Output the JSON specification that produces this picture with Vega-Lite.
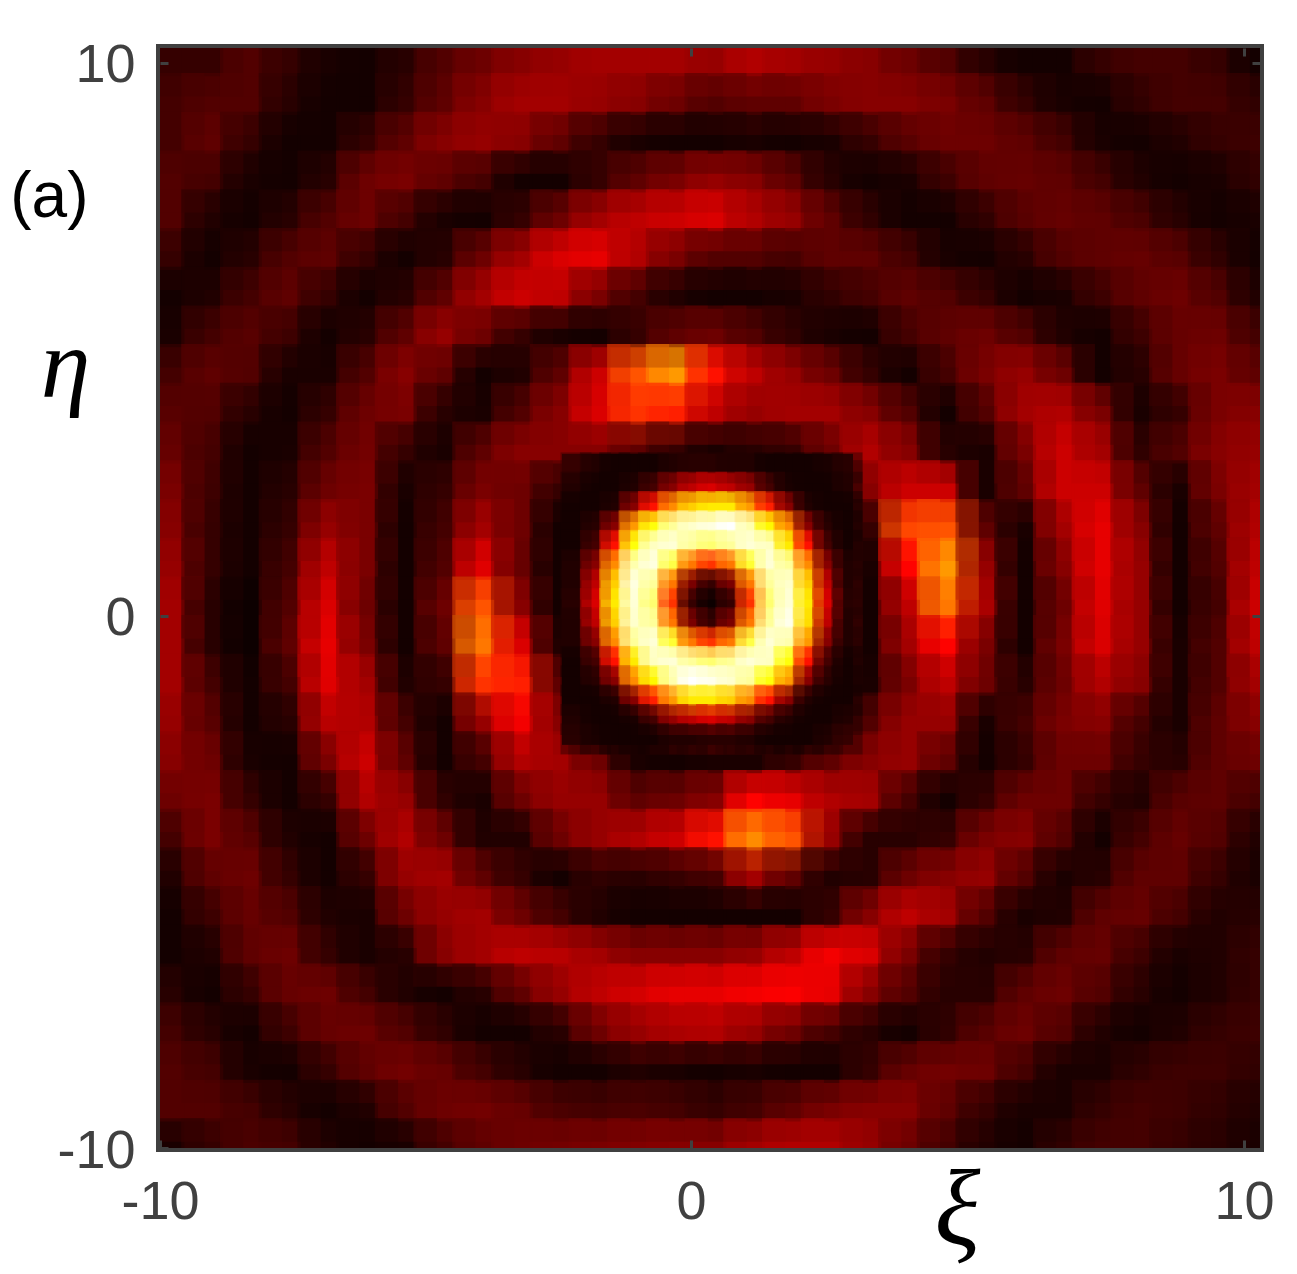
{"$schema":"https://vega.github.io/schema/vega-lite/v6.json","width":1100,"height":1100,"autosize":{"type":"none"},"padding":{"left":160,"top":48,"right":37,"bottom":126},"background":"white","config":{"view":{"stroke":"#404040","strokeWidth":8}},"resolve":{"axis":{"x":"independent","y":"independent"}},"datasets":{"coarse":[
{"x":-9.5,"y":10.1,"v":8},{"x":-8.8,"y":10.1,"v":8},{"x":-8.1,"y":10.1,"v":12},{"x":-7.4,"y":10.1,"v":8},{"x":-6.7,"y":10.1,"v":4},{"x":-6,"y":10.1,"v":3},{"x":-5.3,"y":10.1,"v":6},{"x":-4.6,"y":10.1,"v":12},{"x":-3.9,"y":10.1,"v":16},{"x":-3.2,"y":10.1,"v":20},{"x":-2.5,"y":10.1,"v":22},{"x":-1.8,"y":10.1,"v":24},{"x":-1.1,"y":10.1,"v":24},{"x":-0.4,"y":10.1,"v":24},{"x":0.3,"y":10.1,"v":22},{"x":1,"y":10.1,"v":26},{"x":1.7,"y":10.1,"v":24},{"x":2.4,"y":10.1,"v":22},{"x":3.1,"y":10.1,"v":20},{"x":3.8,"y":10.1,"v":16},{"x":4.5,"y":10.1,"v":12},{"x":5.2,"y":10.1,"v":6},{"x":5.9,"y":10.1,"v":3},{"x":6.6,"y":10.1,"v":3},{"x":7.3,"y":10.1,"v":8},{"x":8,"y":10.1,"v":10},{"x":8.7,"y":10.1,"v":10},{"x":9.4,"y":10.1,"v":8},{"x":10.1,"y":10.1,"v":3},
{"x":-9.5,"y":9.4,"v":10},{"x":-8.8,"y":9.4,"v":12},{"x":-8.1,"y":9.4,"v":12},{"x":-7.4,"y":9.4,"v":6},{"x":-6.7,"y":9.4,"v":3},{"x":-6,"y":9.4,"v":3},{"x":-5.3,"y":9.4,"v":8},{"x":-4.6,"y":9.4,"v":14},{"x":-3.9,"y":9.4,"v":20},{"x":-3.2,"y":9.4,"v":24},{"x":-2.5,"y":9.4,"v":24},{"x":-1.8,"y":9.4,"v":22},{"x":-1.1,"y":9.4,"v":20},{"x":-0.4,"y":9.4,"v":16},{"x":0.3,"y":9.4,"v":12},{"x":1,"y":9.4,"v":14},{"x":1.7,"y":9.4,"v":14},{"x":2.4,"y":9.4,"v":18},{"x":3.1,"y":9.4,"v":20},{"x":3.8,"y":9.4,"v":20},{"x":4.5,"y":9.4,"v":18},{"x":5.2,"y":9.4,"v":14},{"x":5.9,"y":9.4,"v":8},{"x":6.6,"y":9.4,"v":4},{"x":7.3,"y":9.4,"v":3},{"x":8,"y":9.4,"v":7},{"x":8.7,"y":9.4,"v":10},{"x":9.4,"y":9.4,"v":10},{"x":10.1,"y":9.4,"v":7},
{"x":-9.5,"y":8.7,"v":10},{"x":-8.8,"y":8.7,"v":14},{"x":-8.1,"y":8.7,"v":8},{"x":-7.4,"y":8.7,"v":3},{"x":-6.7,"y":8.7,"v":3},{"x":-6,"y":8.7,"v":8},{"x":-5.3,"y":8.7,"v":14},{"x":-4.6,"y":8.7,"v":20},{"x":-3.9,"y":8.7,"v":22},{"x":-3.2,"y":8.7,"v":20},{"x":-2.5,"y":8.7,"v":14},{"x":-1.8,"y":8.7,"v":8},{"x":-1.1,"y":8.7,"v":4},{"x":-0.4,"y":8.7,"v":3},{"x":0.3,"y":8.7,"v":3},{"x":1,"y":8.7,"v":4},{"x":1.7,"y":8.7,"v":3},{"x":2.4,"y":8.7,"v":4},{"x":3.1,"y":8.7,"v":8},{"x":3.8,"y":8.7,"v":13},{"x":4.5,"y":8.7,"v":16},{"x":5.2,"y":8.7,"v":16},{"x":5.9,"y":8.7,"v":14},{"x":6.6,"y":8.7,"v":10},{"x":7.3,"y":8.7,"v":4},{"x":8,"y":8.7,"v":3},{"x":8.7,"y":8.7,"v":5},{"x":9.4,"y":8.7,"v":8},{"x":10.1,"y":8.7,"v":9},
{"x":-9.5,"y":8,"v":12},{"x":-8.8,"y":8,"v":10},{"x":-8.1,"y":8,"v":4},{"x":-7.4,"y":8,"v":3},{"x":-6.7,"y":8,"v":6},{"x":-6,"y":8,"v":16},{"x":-5.3,"y":8,"v":18},{"x":-4.6,"y":8,"v":14},{"x":-3.9,"y":8,"v":10},{"x":-3.2,"y":8,"v":3},{"x":-2.5,"y":8,"v":3},{"x":-1.8,"y":8,"v":8},{"x":-1.1,"y":8,"v":14},{"x":-0.4,"y":8,"v":18},{"x":0.3,"y":8,"v":22},{"x":1,"y":8,"v":20},{"x":1.7,"y":8,"v":14},{"x":2.4,"y":8,"v":6},{"x":3.1,"y":8,"v":3},{"x":3.8,"y":8,"v":4},{"x":4.5,"y":8,"v":9},{"x":5.2,"y":8,"v":14},{"x":5.9,"y":8,"v":15},{"x":6.6,"y":8,"v":14},{"x":7.3,"y":8,"v":10},{"x":8,"y":8,"v":5},{"x":8.7,"y":8,"v":3},{"x":9.4,"y":8,"v":4},{"x":10.1,"y":8,"v":7},
{"x":-9.5,"y":7.3,"v":12},{"x":-8.8,"y":7.3,"v":5},{"x":-8.1,"y":7.3,"v":3},{"x":-7.4,"y":7.3,"v":6},{"x":-6.7,"y":7.3,"v":12},{"x":-6,"y":7.3,"v":16},{"x":-5.3,"y":7.3,"v":10},{"x":-4.6,"y":7.3,"v":4},{"x":-3.9,"y":7.3,"v":3},{"x":-3.2,"y":7.3,"v":8},{"x":-2.5,"y":7.3,"v":16},{"x":-1.8,"y":7.3,"v":24},{"x":-1.1,"y":7.3,"v":28},{"x":-0.4,"y":7.3,"v":30},{"x":0.3,"y":7.3,"v":32},{"x":1,"y":7.3,"v":26},{"x":1.7,"y":7.3,"v":22},{"x":2.4,"y":7.3,"v":14},{"x":3.1,"y":7.3,"v":7},{"x":3.8,"y":7.3,"v":3},{"x":4.5,"y":7.3,"v":3},{"x":5.2,"y":7.3,"v":7},{"x":5.9,"y":7.3,"v":13},{"x":6.6,"y":7.3,"v":15},{"x":7.3,"y":7.3,"v":14},{"x":8,"y":7.3,"v":11},{"x":8.7,"y":7.3,"v":6},{"x":9.4,"y":7.3,"v":3},{"x":10.1,"y":7.3,"v":4},
{"x":-9.5,"y":6.6,"v":8},{"x":-8.8,"y":6.6,"v":3},{"x":-8.1,"y":6.6,"v":6},{"x":-7.4,"y":6.6,"v":12},{"x":-6.7,"y":6.6,"v":14},{"x":-6,"y":6.6,"v":8},{"x":-5.3,"y":6.6,"v":3},{"x":-4.6,"y":6.6,"v":6},{"x":-3.9,"y":6.6,"v":16},{"x":-3.2,"y":6.6,"v":24},{"x":-2.5,"y":6.6,"v":32},{"x":-1.8,"y":6.6,"v":34},{"x":-1.1,"y":6.6,"v":26},{"x":-0.4,"y":6.6,"v":18},{"x":0.3,"y":6.6,"v":12},{"x":1,"y":6.6,"v":12},{"x":1.7,"y":6.6,"v":10},{"x":2.4,"y":6.6,"v":14},{"x":3.1,"y":6.6,"v":14},{"x":3.8,"y":6.6,"v":10},{"x":4.5,"y":6.6,"v":4},{"x":5.2,"y":6.6,"v":3},{"x":5.9,"y":6.6,"v":6},{"x":6.6,"y":6.6,"v":12},{"x":7.3,"y":6.6,"v":14},{"x":8,"y":6.6,"v":15},{"x":8.7,"y":6.6,"v":13},{"x":9.4,"y":6.6,"v":7},{"x":10.1,"y":6.6,"v":3},
{"x":-9.5,"y":5.9,"v":3},{"x":-8.8,"y":5.9,"v":5},{"x":-8.1,"y":5.9,"v":10},{"x":-7.4,"y":5.9,"v":14},{"x":-6.7,"y":5.9,"v":8},{"x":-6,"y":5.9,"v":3},{"x":-5.3,"y":5.9,"v":6},{"x":-4.6,"y":5.9,"v":14},{"x":-3.9,"y":5.9,"v":24},{"x":-3.2,"y":5.9,"v":30},{"x":-2.5,"y":5.9,"v":28},{"x":-1.8,"y":5.9,"v":18},{"x":-1.1,"y":5.9,"v":10},{"x":-0.4,"y":5.9,"v":5},{"x":0.3,"y":5.9,"v":3},{"x":1,"y":5.9,"v":3},{"x":1.7,"y":5.9,"v":4},{"x":2.4,"y":5.9,"v":7},{"x":3.1,"y":5.9,"v":10},{"x":3.8,"y":5.9,"v":14},{"x":4.5,"y":5.9,"v":12},{"x":5.2,"y":5.9,"v":8},{"x":5.9,"y":5.9,"v":3},{"x":6.6,"y":5.9,"v":4},{"x":7.3,"y":5.9,"v":9},{"x":8,"y":5.9,"v":14},{"x":8.7,"y":5.9,"v":16},{"x":9.4,"y":5.9,"v":12},{"x":10.1,"y":5.9,"v":5},
{"x":-9.5,"y":5.2,"v":4},{"x":-8.8,"y":5.2,"v":10},{"x":-8.1,"y":5.2,"v":13},{"x":-7.4,"y":5.2,"v":9},{"x":-6.7,"y":5.2,"v":3},{"x":-6,"y":5.2,"v":6},{"x":-5.3,"y":5.2,"v":14},{"x":-4.6,"y":5.2,"v":22},{"x":-3.9,"y":5.2,"v":16},{"x":-3.2,"y":5.2,"v":8},{"x":-2.5,"y":5.2,"v":4},{"x":-1.8,"y":5.2,"v":3},{"x":-1.1,"y":5.2,"v":8},{"x":-0.4,"y":5.2,"v":14},{"x":0.3,"y":5.2,"v":16},{"x":1,"y":5.2,"v":12},{"x":1.7,"y":5.2,"v":7},{"x":2.4,"y":5.2,"v":4},{"x":3.1,"y":5.2,"v":3},{"x":3.8,"y":5.2,"v":10},{"x":4.5,"y":5.2,"v":14},{"x":5.2,"y":5.2,"v":16},{"x":5.9,"y":5.2,"v":12},{"x":6.6,"y":5.2,"v":5},{"x":7.3,"y":5.2,"v":3},{"x":8,"y":5.2,"v":9},{"x":8.7,"y":5.2,"v":15},{"x":9.4,"y":5.2,"v":16},{"x":10.1,"y":5.2,"v":10},
{"x":-9.5,"y":4.5,"v":10},{"x":-8.8,"y":4.5,"v":14},{"x":-8.1,"y":4.5,"v":12},{"x":-7.4,"y":4.5,"v":4},{"x":-6.7,"y":4.5,"v":4},{"x":-6,"y":4.5,"v":12},{"x":-5.3,"y":4.5,"v":20},{"x":-4.6,"y":4.5,"v":14},{"x":-3.9,"y":4.5,"v":3},{"x":-3.2,"y":4.5,"v":5},{"x":-2.5,"y":4.5,"v":14},{"x":-1.8,"y":4.5,"v":30},{"x":-1.1,"y":4.5,"v":50},{"x":-0.4,"y":4.5,"v":60},{"x":0.3,"y":4.5,"v":40},{"x":1,"y":4.5,"v":28},{"x":1.7,"y":4.5,"v":22},{"x":2.4,"y":4.5,"v":16},{"x":3.1,"y":4.5,"v":8},{"x":3.8,"y":4.5,"v":3},{"x":4.5,"y":4.5,"v":10},{"x":5.2,"y":4.5,"v":18},{"x":5.9,"y":4.5,"v":22},{"x":6.6,"y":4.5,"v":16},{"x":7.3,"y":4.5,"v":3},{"x":8,"y":4.5,"v":6},{"x":8.7,"y":4.5,"v":15},{"x":9.4,"y":4.5,"v":18},{"x":10.1,"y":4.5,"v":14},
{"x":-9.5,"y":3.8,"v":13},{"x":-8.8,"y":3.8,"v":12},{"x":-8.1,"y":3.8,"v":6},{"x":-7.4,"y":3.8,"v":3},{"x":-6.7,"y":3.8,"v":8},{"x":-6,"y":3.8,"v":16},{"x":-5.3,"y":3.8,"v":18},{"x":-4.6,"y":3.8,"v":6},{"x":-3.9,"y":3.8,"v":4},{"x":-3.2,"y":3.8,"v":12},{"x":-2.5,"y":3.8,"v":20},{"x":-1.8,"y":3.8,"v":32},{"x":-1.1,"y":3.8,"v":45},{"x":-0.4,"y":3.8,"v":42},{"x":0.3,"y":3.8,"v":28},{"x":1,"y":3.8,"v":22},{"x":1.7,"y":3.8,"v":24},{"x":2.4,"y":3.8,"v":24},{"x":3.1,"y":3.8,"v":20},{"x":3.8,"y":3.8,"v":12},{"x":4.5,"y":3.8,"v":3},{"x":5.2,"y":3.8,"v":12},{"x":5.9,"y":3.8,"v":24},{"x":6.6,"y":3.8,"v":26},{"x":7.3,"y":3.8,"v":18},{"x":8,"y":3.8,"v":4},{"x":8.7,"y":3.8,"v":8},{"x":9.4,"y":3.8,"v":18},{"x":10.1,"y":3.8,"v":20},
{"x":-9.5,"y":3.1,"v":15},{"x":-8.8,"y":3.1,"v":10},{"x":-8.1,"y":3.1,"v":3},{"x":-7.4,"y":3.1,"v":4},{"x":-6.7,"y":3.1,"v":12},{"x":-6,"y":3.1,"v":17},{"x":-5.3,"y":3.1,"v":8},{"x":-4.6,"y":3.1,"v":4},{"x":-3.9,"y":3.1,"v":14},{"x":-3.2,"y":3.1,"v":20},{"x":-2.5,"y":3.1,"v":20},{"x":-1.8,"y":3.1,"v":20},{"x":-1.1,"y":3.1,"v":14},{"x":-0.4,"y":3.1,"v":8},{"x":0.3,"y":3.1,"v":4},{"x":1,"y":3.1,"v":6},{"x":1.7,"y":3.1,"v":8},{"x":2.4,"y":3.1,"v":16},{"x":3.1,"y":3.1,"v":26},{"x":3.8,"y":3.1,"v":20},{"x":4.5,"y":3.1,"v":6},{"x":5.2,"y":3.1,"v":4},{"x":5.9,"y":3.1,"v":18},{"x":6.6,"y":3.1,"v":30},{"x":7.3,"y":3.1,"v":24},{"x":8,"y":3.1,"v":7},{"x":8.7,"y":3.1,"v":12},{"x":9.4,"y":3.1,"v":20},{"x":10.1,"y":3.1,"v":22},
{"x":-9.5,"y":2.4,"v":18},{"x":-8.8,"y":2.4,"v":9},{"x":-8.1,"y":2.4,"v":3},{"x":-7.4,"y":2.4,"v":6},{"x":-6.7,"y":2.4,"v":16},{"x":-6,"y":2.4,"v":18},{"x":-5.3,"y":2.4,"v":4},{"x":-4.6,"y":2.4,"v":8},{"x":-3.9,"y":2.4,"v":18},{"x":-3.2,"y":2.4,"v":16},{"x":-2.5,"y":2.4,"v":8},{"x":-1.8,"y":2.4,"v":3},{"x":-1.1,"y":2.4,"v":4},{"x":-0.4,"y":2.4,"v":15},{"x":0.3,"y":2.4,"v":30},{"x":1,"y":2.4,"v":25},{"x":1.7,"y":2.4,"v":8},{"x":2.4,"y":2.4,"v":3},{"x":3.1,"y":2.4,"v":20},{"x":3.8,"y":2.4,"v":30},{"x":4.5,"y":2.4,"v":30},{"x":5.2,"y":2.4,"v":4},{"x":5.9,"y":2.4,"v":14},{"x":6.6,"y":2.4,"v":30},{"x":7.3,"y":2.4,"v":30},{"x":8,"y":2.4,"v":14},{"x":8.7,"y":2.4,"v":4},{"x":9.4,"y":2.4,"v":18},{"x":10.1,"y":2.4,"v":24},
{"x":-9.5,"y":1.7,"v":20},{"x":-8.8,"y":1.7,"v":8},{"x":-8.1,"y":1.7,"v":3},{"x":-7.4,"y":1.7,"v":8},{"x":-6.7,"y":1.7,"v":22},{"x":-6,"y":1.7,"v":18},{"x":-5.3,"y":1.7,"v":3},{"x":-4.6,"y":1.7,"v":10},{"x":-3.9,"y":1.7,"v":24},{"x":-3.2,"y":1.7,"v":16},{"x":-2.5,"y":1.7,"v":3},{"x":-1.8,"y":1.7,"v":4},{"x":-1.1,"y":1.7,"v":36},{"x":-0.4,"y":1.7,"v":65},{"x":0.3,"y":1.7,"v":80},{"x":1,"y":1.7,"v":88},{"x":1.7,"y":1.7,"v":40},{"x":2.4,"y":1.7,"v":6},{"x":3.1,"y":1.7,"v":8},{"x":3.8,"y":1.7,"v":48},{"x":4.5,"y":1.7,"v":50},{"x":5.2,"y":1.7,"v":14},{"x":5.9,"y":1.7,"v":4},{"x":6.6,"y":1.7,"v":24},{"x":7.3,"y":1.7,"v":34},{"x":8,"y":1.7,"v":20},{"x":8.7,"y":1.7,"v":3},{"x":9.4,"y":1.7,"v":14},{"x":10.1,"y":1.7,"v":26},
{"x":-9.5,"y":1,"v":22},{"x":-8.8,"y":1,"v":8},{"x":-8.1,"y":1,"v":3},{"x":-7.4,"y":1,"v":10},{"x":-6.7,"y":1,"v":28},{"x":-6,"y":1,"v":18},{"x":-5.3,"y":1,"v":3},{"x":-4.6,"y":1,"v":12},{"x":-3.9,"y":1,"v":33},{"x":-3.2,"y":1,"v":15},{"x":-2.5,"y":1,"v":3},{"x":-1.8,"y":1,"v":25},{"x":-1.1,"y":1,"v":85},{"x":-0.4,"y":1,"v":95},{"x":0.3,"y":1,"v":72},{"x":1,"y":1,"v":95},{"x":1.7,"y":1,"v":72},{"x":2.4,"y":1,"v":15},{"x":3.1,"y":1,"v":4},{"x":3.8,"y":1,"v":38},{"x":4.5,"y":1,"v":60},{"x":5.2,"y":1,"v":22},{"x":5.9,"y":1,"v":3},{"x":6.6,"y":1,"v":20},{"x":7.3,"y":1,"v":34},{"x":8,"y":1,"v":22},{"x":8.7,"y":1,"v":3},{"x":9.4,"y":1,"v":12},{"x":10.1,"y":1,"v":28},
{"x":-9.5,"y":0.3,"v":24},{"x":-8.8,"y":0.3,"v":6},{"x":-8.1,"y":0.3,"v":2},{"x":-7.4,"y":0.3,"v":12},{"x":-6.7,"y":0.3,"v":32},{"x":-6,"y":0.3,"v":16},{"x":-5.3,"y":0.3,"v":3},{"x":-4.6,"y":0.3,"v":16},{"x":-3.9,"y":0.3,"v":50},{"x":-3.2,"y":0.3,"v":20},{"x":-2.5,"y":0.3,"v":3},{"x":-1.8,"y":0.3,"v":15},{"x":-1.1,"y":0.3,"v":95},{"x":-0.4,"y":0.3,"v":45},{"x":0.3,"y":0.3,"v":3},{"x":1,"y":0.3,"v":45},{"x":1.7,"y":0.3,"v":90},{"x":2.4,"y":0.3,"v":20},{"x":3.1,"y":0.3,"v":3},{"x":3.8,"y":0.3,"v":28},{"x":4.5,"y":0.3,"v":55},{"x":5.2,"y":0.3,"v":25},{"x":5.9,"y":0.3,"v":3},{"x":6.6,"y":0.3,"v":16},{"x":7.3,"y":0.3,"v":33},{"x":8,"y":0.3,"v":22},{"x":8.7,"y":0.3,"v":3},{"x":9.4,"y":0.3,"v":10},{"x":10.1,"y":0.3,"v":30},
{"x":-9.5,"y":-0.4,"v":24},{"x":-8.8,"y":-0.4,"v":6},{"x":-8.1,"y":-0.4,"v":2},{"x":-7.4,"y":-0.4,"v":14},{"x":-6.7,"y":-0.4,"v":34},{"x":-6,"y":-0.4,"v":18},{"x":-5.3,"y":-0.4,"v":3},{"x":-4.6,"y":-0.4,"v":14},{"x":-3.9,"y":-0.4,"v":55},{"x":-3.2,"y":-0.4,"v":32},{"x":-2.5,"y":-0.4,"v":5},{"x":-1.8,"y":-0.4,"v":10},{"x":-1.1,"y":-0.4,"v":85},{"x":-0.4,"y":-0.4,"v":88},{"x":0.3,"y":-0.4,"v":50},{"x":1,"y":-0.4,"v":80},{"x":1.7,"y":-0.4,"v":92},{"x":2.4,"y":-0.4,"v":22},{"x":3.1,"y":-0.4,"v":3},{"x":3.8,"y":-0.4,"v":24},{"x":4.5,"y":-0.4,"v":38},{"x":5.2,"y":-0.4,"v":18},{"x":5.9,"y":-0.4,"v":3},{"x":6.6,"y":-0.4,"v":18},{"x":7.3,"y":-0.4,"v":32},{"x":8,"y":-0.4,"v":22},{"x":8.7,"y":-0.4,"v":4},{"x":9.4,"y":-0.4,"v":12},{"x":10.1,"y":-0.4,"v":28},
{"x":-9.5,"y":-1.1,"v":24},{"x":-8.8,"y":-1.1,"v":10},{"x":-8.1,"y":-1.1,"v":3},{"x":-7.4,"y":-1.1,"v":10},{"x":-6.7,"y":-1.1,"v":33},{"x":-6,"y":-1.1,"v":24},{"x":-5.3,"y":-1.1,"v":5},{"x":-4.6,"y":-1.1,"v":8},{"x":-3.9,"y":-1.1,"v":45},{"x":-3.2,"y":-1.1,"v":42},{"x":-2.5,"y":-1.1,"v":14},{"x":-1.8,"y":-1.1,"v":4},{"x":-1.1,"y":-1.1,"v":50},{"x":-0.4,"y":-1.1,"v":88},{"x":0.3,"y":-1.1,"v":90},{"x":1,"y":-1.1,"v":92},{"x":1.7,"y":-1.1,"v":55},{"x":2.4,"y":-1.1,"v":10},{"x":3.1,"y":-1.1,"v":4},{"x":3.8,"y":-1.1,"v":18},{"x":4.5,"y":-1.1,"v":28},{"x":5.2,"y":-1.1,"v":16},{"x":5.9,"y":-1.1,"v":6},{"x":6.6,"y":-1.1,"v":16},{"x":7.3,"y":-1.1,"v":26},{"x":8,"y":-1.1,"v":20},{"x":8.7,"y":-1.1,"v":4},{"x":9.4,"y":-1.1,"v":12},{"x":10.1,"y":-1.1,"v":24},
{"x":-9.5,"y":-1.8,"v":22},{"x":-8.8,"y":-1.8,"v":13},{"x":-8.1,"y":-1.8,"v":3},{"x":-7.4,"y":-1.8,"v":6},{"x":-6.7,"y":-1.8,"v":27},{"x":-6,"y":-1.8,"v":26},{"x":-5.3,"y":-1.8,"v":10},{"x":-4.6,"y":-1.8,"v":3},{"x":-3.9,"y":-1.8,"v":22},{"x":-3.2,"y":-1.8,"v":36},{"x":-2.5,"y":-1.8,"v":20},{"x":-1.8,"y":-1.8,"v":4},{"x":-1.1,"y":-1.8,"v":8},{"x":-0.4,"y":-1.8,"v":24},{"x":0.3,"y":-1.8,"v":35},{"x":1,"y":-1.8,"v":22},{"x":1.7,"y":-1.8,"v":7},{"x":2.4,"y":-1.8,"v":4},{"x":3.1,"y":-1.8,"v":12},{"x":3.8,"y":-1.8,"v":22},{"x":4.5,"y":-1.8,"v":22},{"x":5.2,"y":-1.8,"v":4},{"x":5.9,"y":-1.8,"v":10},{"x":6.6,"y":-1.8,"v":18},{"x":7.3,"y":-1.8,"v":20},{"x":8,"y":-1.8,"v":10},{"x":8.7,"y":-1.8,"v":4},{"x":9.4,"y":-1.8,"v":14},{"x":10.1,"y":-1.8,"v":20},
{"x":-9.5,"y":-2.5,"v":20},{"x":-8.8,"y":-2.5,"v":16},{"x":-8.1,"y":-2.5,"v":4},{"x":-7.4,"y":-2.5,"v":3},{"x":-6.7,"y":-2.5,"v":18},{"x":-6,"y":-2.5,"v":30},{"x":-5.3,"y":-2.5,"v":14},{"x":-4.6,"y":-2.5,"v":3},{"x":-3.9,"y":-2.5,"v":10},{"x":-3.2,"y":-2.5,"v":26},{"x":-2.5,"y":-2.5,"v":24},{"x":-1.8,"y":-2.5,"v":16},{"x":-1.1,"y":-2.5,"v":4},{"x":-0.4,"y":-2.5,"v":3},{"x":0.3,"y":-2.5,"v":4},{"x":1,"y":-2.5,"v":4},{"x":1.7,"y":-2.5,"v":8},{"x":2.4,"y":-2.5,"v":14},{"x":3.1,"y":-2.5,"v":20},{"x":3.8,"y":-2.5,"v":22},{"x":4.5,"y":-2.5,"v":14},{"x":5.2,"y":-2.5,"v":3},{"x":5.9,"y":-2.5,"v":8},{"x":6.6,"y":-2.5,"v":16},{"x":7.3,"y":-2.5,"v":16},{"x":8,"y":-2.5,"v":8},{"x":8.7,"y":-2.5,"v":6},{"x":9.4,"y":-2.5,"v":14},{"x":10.1,"y":-2.5,"v":16},
{"x":-9.5,"y":-3.2,"v":16},{"x":-8.8,"y":-3.2,"v":18},{"x":-8.1,"y":-3.2,"v":8},{"x":-7.4,"y":-3.2,"v":3},{"x":-6.7,"y":-3.2,"v":8},{"x":-6,"y":-3.2,"v":26},{"x":-5.3,"y":-3.2,"v":22},{"x":-4.6,"y":-3.2,"v":7},{"x":-3.9,"y":-3.2,"v":4},{"x":-3.2,"y":-3.2,"v":16},{"x":-2.5,"y":-3.2,"v":22},{"x":-1.8,"y":-3.2,"v":22},{"x":-1.1,"y":-3.2,"v":14},{"x":-0.4,"y":-3.2,"v":16},{"x":0.3,"y":-3.2,"v":20},{"x":1,"y":-3.2,"v":38},{"x":1.7,"y":-3.2,"v":34},{"x":2.4,"y":-3.2,"v":26},{"x":3.1,"y":-3.2,"v":24},{"x":3.8,"y":-3.2,"v":10},{"x":4.5,"y":-3.2,"v":3},{"x":5.2,"y":-3.2,"v":8},{"x":5.9,"y":-3.2,"v":16},{"x":6.6,"y":-3.2,"v":16},{"x":7.3,"y":-3.2,"v":8},{"x":8,"y":-3.2,"v":5},{"x":8.7,"y":-3.2,"v":13},{"x":9.4,"y":-3.2,"v":14},{"x":10.1,"y":-3.2,"v":10},
{"x":-9.5,"y":-3.9,"v":10},{"x":-8.8,"y":-3.9,"v":18},{"x":-8.1,"y":-3.9,"v":13},{"x":-7.4,"y":-3.9,"v":5},{"x":-6.7,"y":-3.9,"v":3},{"x":-6,"y":-3.9,"v":16},{"x":-5.3,"y":-3.9,"v":26},{"x":-4.6,"y":-3.9,"v":16},{"x":-3.9,"y":-3.9,"v":5},{"x":-3.2,"y":-3.9,"v":5},{"x":-2.5,"y":-3.9,"v":16},{"x":-1.8,"y":-3.9,"v":22},{"x":-1.1,"y":-3.9,"v":26},{"x":-0.4,"y":-3.9,"v":30},{"x":0.3,"y":-3.9,"v":40},{"x":1,"y":-3.9,"v":58},{"x":1.7,"y":-3.9,"v":50},{"x":2.4,"y":-3.9,"v":22},{"x":3.1,"y":-3.9,"v":6},{"x":3.8,"y":-3.9,"v":6},{"x":4.5,"y":-3.9,"v":8},{"x":5.2,"y":-3.9,"v":18},{"x":5.9,"y":-3.9,"v":20},{"x":6.6,"y":-3.9,"v":12},{"x":7.3,"y":-3.9,"v":3},{"x":8,"y":-3.9,"v":10},{"x":8.7,"y":-3.9,"v":15},{"x":9.4,"y":-3.9,"v":12},{"x":10.1,"y":-3.9,"v":5},
{"x":-9.5,"y":-4.6,"v":5},{"x":-8.8,"y":-4.6,"v":14},{"x":-8.1,"y":-4.6,"v":16},{"x":-7.4,"y":-4.6,"v":8},{"x":-6.7,"y":-4.6,"v":3},{"x":-6,"y":-4.6,"v":8},{"x":-5.3,"y":-4.6,"v":22},{"x":-4.6,"y":-4.6,"v":24},{"x":-3.9,"y":-4.6,"v":14},{"x":-3.2,"y":-4.6,"v":8},{"x":-2.5,"y":-4.6,"v":3},{"x":-1.8,"y":-4.6,"v":7},{"x":-1.1,"y":-4.6,"v":6},{"x":-0.4,"y":-4.6,"v":8},{"x":0.3,"y":-4.6,"v":10},{"x":1,"y":-4.6,"v":24},{"x":1.7,"y":-4.6,"v":14},{"x":2.4,"y":-4.6,"v":5},{"x":3.1,"y":-4.6,"v":6},{"x":3.8,"y":-4.6,"v":16},{"x":4.5,"y":-4.6,"v":20},{"x":5.2,"y":-4.6,"v":22},{"x":5.9,"y":-4.6,"v":12},{"x":6.6,"y":-4.6,"v":4},{"x":7.3,"y":-4.6,"v":6},{"x":8,"y":-4.6,"v":14},{"x":8.7,"y":-4.6,"v":14},{"x":9.4,"y":-4.6,"v":8},{"x":10.1,"y":-4.6,"v":4},
{"x":-9.5,"y":-5.3,"v":3},{"x":-8.8,"y":-5.3,"v":9},{"x":-8.1,"y":-5.3,"v":15},{"x":-7.4,"y":-5.3,"v":12},{"x":-6.7,"y":-5.3,"v":5},{"x":-6,"y":-5.3,"v":4},{"x":-5.3,"y":-5.3,"v":16},{"x":-4.6,"y":-5.3,"v":22},{"x":-3.9,"y":-5.3,"v":24},{"x":-3.2,"y":-5.3,"v":16},{"x":-2.5,"y":-5.3,"v":10},{"x":-1.8,"y":-5.3,"v":5},{"x":-1.1,"y":-5.3,"v":3},{"x":-0.4,"y":-5.3,"v":3},{"x":0.3,"y":-5.3,"v":3},{"x":1,"y":-5.3,"v":3},{"x":1.7,"y":-5.3,"v":3},{"x":2.4,"y":-5.3,"v":8},{"x":3.1,"y":-5.3,"v":20},{"x":3.8,"y":-5.3,"v":28},{"x":4.5,"y":-5.3,"v":24},{"x":5.2,"y":-5.3,"v":12},{"x":5.9,"y":-5.3,"v":4},{"x":6.6,"y":-5.3,"v":5},{"x":7.3,"y":-5.3,"v":14},{"x":8,"y":-5.3,"v":15},{"x":8.7,"y":-5.3,"v":10},{"x":9.4,"y":-5.3,"v":5},{"x":10.1,"y":-5.3,"v":6},
{"x":-9.5,"y":-6,"v":3},{"x":-8.8,"y":-6,"v":5},{"x":-8.1,"y":-6,"v":14},{"x":-7.4,"y":-6,"v":16},{"x":-6.7,"y":-6,"v":8},{"x":-6,"y":-6,"v":4},{"x":-5.3,"y":-6,"v":6},{"x":-4.6,"y":-6,"v":20},{"x":-3.9,"y":-6,"v":24},{"x":-3.2,"y":-6,"v":28},{"x":-2.5,"y":-6,"v":27},{"x":-1.8,"y":-6,"v":24},{"x":-1.1,"y":-6,"v":20},{"x":-0.4,"y":-6,"v":20},{"x":0.3,"y":-6,"v":20},{"x":1,"y":-6,"v":22},{"x":1.7,"y":-6,"v":28},{"x":2.4,"y":-6,"v":36},{"x":3.1,"y":-6,"v":32},{"x":3.8,"y":-6,"v":18},{"x":4.5,"y":-6,"v":8},{"x":5.2,"y":-6,"v":5},{"x":5.9,"y":-6,"v":6},{"x":6.6,"y":-6,"v":14},{"x":7.3,"y":-6,"v":15},{"x":8,"y":-6,"v":9},{"x":8.7,"y":-6,"v":4},{"x":9.4,"y":-6,"v":5},{"x":10.1,"y":-6,"v":8},
{"x":-9.5,"y":-6.7,"v":6},{"x":-8.8,"y":-6.7,"v":3},{"x":-8.1,"y":-6.7,"v":8},{"x":-7.4,"y":-6.7,"v":15},{"x":-6.7,"y":-6.7,"v":16},{"x":-6,"y":-6.7,"v":10},{"x":-5.3,"y":-6.7,"v":5},{"x":-4.6,"y":-6.7,"v":3},{"x":-3.9,"y":-6.7,"v":6},{"x":-3.2,"y":-6.7,"v":14},{"x":-2.5,"y":-6.7,"v":22},{"x":-1.8,"y":-6.7,"v":28},{"x":-1.1,"y":-6.7,"v":31},{"x":-0.4,"y":-6.7,"v":34},{"x":0.3,"y":-6.7,"v":34},{"x":1,"y":-6.7,"v":36},{"x":1.7,"y":-6.7,"v":37},{"x":2.4,"y":-6.7,"v":34},{"x":3.1,"y":-6.7,"v":20},{"x":3.8,"y":-6.7,"v":12},{"x":4.5,"y":-6.7,"v":6},{"x":5.2,"y":-6.7,"v":6},{"x":5.9,"y":-6.7,"v":14},{"x":6.6,"y":-6.7,"v":16},{"x":7.3,"y":-6.7,"v":12},{"x":8,"y":-6.7,"v":6},{"x":8.7,"y":-6.7,"v":3},{"x":9.4,"y":-6.7,"v":5},{"x":10.1,"y":-6.7,"v":8},
{"x":-9.5,"y":-7.4,"v":10},{"x":-8.8,"y":-7.4,"v":6},{"x":-8.1,"y":-7.4,"v":3},{"x":-7.4,"y":-7.4,"v":9},{"x":-6.7,"y":-7.4,"v":15},{"x":-6,"y":-7.4,"v":16},{"x":-5.3,"y":-7.4,"v":12},{"x":-4.6,"y":-7.4,"v":7},{"x":-3.9,"y":-7.4,"v":3},{"x":-3.2,"y":-7.4,"v":3},{"x":-2.5,"y":-7.4,"v":6},{"x":-1.8,"y":-7.4,"v":16},{"x":-1.1,"y":-7.4,"v":22},{"x":-0.4,"y":-7.4,"v":25},{"x":0.3,"y":-7.4,"v":26},{"x":1,"y":-7.4,"v":22},{"x":1.7,"y":-7.4,"v":16},{"x":2.4,"y":-7.4,"v":10},{"x":3.1,"y":-7.4,"v":6},{"x":3.8,"y":-7.4,"v":3},{"x":4.5,"y":-7.4,"v":7},{"x":5.2,"y":-7.4,"v":13},{"x":5.9,"y":-7.4,"v":16},{"x":6.6,"y":-7.4,"v":12},{"x":7.3,"y":-7.4,"v":5},{"x":8,"y":-7.4,"v":3},{"x":8.7,"y":-7.4,"v":5},{"x":9.4,"y":-7.4,"v":8},{"x":10.1,"y":-7.4,"v":9},
{"x":-9.5,"y":-8.1,"v":12},{"x":-8.8,"y":-8.1,"v":10},{"x":-8.1,"y":-8.1,"v":4},{"x":-7.4,"y":-8.1,"v":3},{"x":-6.7,"y":-8.1,"v":8},{"x":-6,"y":-8.1,"v":14},{"x":-5.3,"y":-8.1,"v":17},{"x":-4.6,"y":-8.1,"v":15},{"x":-3.9,"y":-8.1,"v":10},{"x":-3.2,"y":-8.1,"v":6},{"x":-2.5,"y":-8.1,"v":3},{"x":-1.8,"y":-8.1,"v":3},{"x":-1.1,"y":-8.1,"v":5},{"x":-0.4,"y":-8.1,"v":4},{"x":0.3,"y":-8.1,"v":3},{"x":1,"y":-8.1,"v":4},{"x":1.7,"y":-8.1,"v":3},{"x":2.4,"y":-8.1,"v":3},{"x":3.1,"y":-8.1,"v":8},{"x":3.8,"y":-8.1,"v":15},{"x":4.5,"y":-8.1,"v":17},{"x":5.2,"y":-8.1,"v":16},{"x":5.9,"y":-8.1,"v":10},{"x":6.6,"y":-8.1,"v":4},{"x":7.3,"y":-8.1,"v":4},{"x":8,"y":-8.1,"v":7},{"x":8.7,"y":-8.1,"v":9},{"x":9.4,"y":-8.1,"v":9},{"x":10.1,"y":-8.1,"v":7},
{"x":-9.5,"y":-8.8,"v":12},{"x":-8.8,"y":-8.8,"v":12},{"x":-8.1,"y":-8.8,"v":10},{"x":-7.4,"y":-8.8,"v":6},{"x":-6.7,"y":-8.8,"v":3},{"x":-6,"y":-8.8,"v":5},{"x":-5.3,"y":-8.8,"v":12},{"x":-4.6,"y":-8.8,"v":16},{"x":-3.9,"y":-8.8,"v":17},{"x":-3.2,"y":-8.8,"v":15},{"x":-2.5,"y":-8.8,"v":11},{"x":-1.8,"y":-8.8,"v":10},{"x":-1.1,"y":-8.8,"v":11},{"x":-0.4,"y":-8.8,"v":10},{"x":0.3,"y":-8.8,"v":8},{"x":1,"y":-8.8,"v":10},{"x":1.7,"y":-8.8,"v":14},{"x":2.4,"y":-8.8,"v":18},{"x":3.1,"y":-8.8,"v":20},{"x":3.8,"y":-8.8,"v":20},{"x":4.5,"y":-8.8,"v":14},{"x":5.2,"y":-8.8,"v":8},{"x":5.9,"y":-8.8,"v":4},{"x":6.6,"y":-8.8,"v":4},{"x":7.3,"y":-8.8,"v":8},{"x":8,"y":-8.8,"v":10},{"x":8.7,"y":-8.8,"v":9},{"x":9.4,"y":-8.8,"v":7},{"x":10.1,"y":-8.8,"v":5},
{"x":-9.5,"y":-9.5,"v":4},{"x":-8.8,"y":-9.5,"v":8},{"x":-8.1,"y":-9.5,"v":11},{"x":-7.4,"y":-9.5,"v":10},{"x":-6.7,"y":-9.5,"v":5},{"x":-6,"y":-9.5,"v":3},{"x":-5.3,"y":-9.5,"v":4},{"x":-4.6,"y":-9.5,"v":10},{"x":-3.9,"y":-9.5,"v":14},{"x":-3.2,"y":-9.5,"v":16},{"x":-2.5,"y":-9.5,"v":17},{"x":-1.8,"y":-9.5,"v":18},{"x":-1.1,"y":-9.5,"v":19},{"x":-0.4,"y":-9.5,"v":20},{"x":0.3,"y":-9.5,"v":20},{"x":1,"y":-9.5,"v":24},{"x":1.7,"y":-9.5,"v":26},{"x":2.4,"y":-9.5,"v":26},{"x":3.1,"y":-9.5,"v":22},{"x":3.8,"y":-9.5,"v":16},{"x":4.5,"y":-9.5,"v":10},{"x":5.2,"y":-9.5,"v":5},{"x":5.9,"y":-9.5,"v":3},{"x":6.6,"y":-9.5,"v":7},{"x":7.3,"y":-9.5,"v":10},{"x":8,"y":-9.5,"v":10},{"x":8.7,"y":-9.5,"v":8},{"x":9.4,"y":-9.5,"v":6},{"x":10.1,"y":-9.5,"v":4}
],"fine":[
{"x":-2.15,"y":2.75,"v":8},{"x":-1.8,"y":2.75,"v":5},{"x":-1.45,"y":2.75,"v":3},{"x":-1.1,"y":2.75,"v":3},{"x":-0.75,"y":2.75,"v":3},{"x":-0.4,"y":2.75,"v":5},{"x":-0.05,"y":2.75,"v":6},{"x":0.3,"y":2.75,"v":6},{"x":0.65,"y":2.75,"v":5},{"x":1,"y":2.75,"v":5},{"x":1.35,"y":2.75,"v":3},{"x":1.7,"y":2.75,"v":3},{"x":2.05,"y":2.75,"v":3},{"x":2.4,"y":2.75,"v":4},{"x":2.75,"y":2.75,"v":6},
{"x":-2.15,"y":2.4,"v":5},{"x":-1.8,"y":2.4,"v":3},{"x":-1.45,"y":2.4,"v":3},{"x":-1.1,"y":2.4,"v":5},{"x":-0.75,"y":2.4,"v":10},{"x":-0.4,"y":2.4,"v":20},{"x":-0.05,"y":2.4,"v":28},{"x":0.3,"y":2.4,"v":32},{"x":0.65,"y":2.4,"v":28},{"x":1,"y":2.4,"v":22},{"x":1.35,"y":2.4,"v":10},{"x":1.7,"y":2.4,"v":4},{"x":2.05,"y":2.4,"v":3},{"x":2.4,"y":2.4,"v":3},{"x":2.75,"y":2.4,"v":5},
{"x":-2.15,"y":2.05,"v":3},{"x":-1.8,"y":2.05,"v":3},{"x":-1.45,"y":2.05,"v":5},{"x":-1.1,"y":2.05,"v":20},{"x":-0.75,"y":2.05,"v":40},{"x":-0.4,"y":2.05,"v":58},{"x":-0.05,"y":2.05,"v":68},{"x":0.3,"y":2.05,"v":72},{"x":0.65,"y":2.05,"v":72},{"x":1,"y":2.05,"v":60},{"x":1.35,"y":2.05,"v":42},{"x":1.7,"y":2.05,"v":20},{"x":2.05,"y":2.05,"v":5},{"x":2.4,"y":2.05,"v":3},{"x":2.75,"y":2.05,"v":3},
{"x":-2.15,"y":1.7,"v":3},{"x":-1.8,"y":1.7,"v":6},{"x":-1.45,"y":1.7,"v":20},{"x":-1.1,"y":1.7,"v":60},{"x":-0.75,"y":1.7,"v":76},{"x":-0.4,"y":1.7,"v":90},{"x":-0.05,"y":1.7,"v":95},{"x":0.3,"y":1.7,"v":97},{"x":0.65,"y":1.7,"v":100},{"x":1,"y":1.7,"v":92},{"x":1.35,"y":1.7,"v":74},{"x":1.7,"y":1.7,"v":58},{"x":2.05,"y":1.7,"v":20},{"x":2.4,"y":1.7,"v":6},{"x":2.75,"y":1.7,"v":3},
{"x":-2.15,"y":1.35,"v":3},{"x":-1.8,"y":1.35,"v":10},{"x":-1.45,"y":1.35,"v":40},{"x":-1.1,"y":1.35,"v":76},{"x":-0.75,"y":1.35,"v":94},{"x":-0.4,"y":1.35,"v":96},{"x":-0.05,"y":1.35,"v":90},{"x":0.3,"y":1.35,"v":86},{"x":0.65,"y":1.35,"v":90},{"x":1,"y":1.35,"v":96},{"x":1.35,"y":1.35,"v":94},{"x":1.7,"y":1.35,"v":72},{"x":2.05,"y":1.35,"v":40},{"x":2.4,"y":1.35,"v":10},{"x":2.75,"y":1.35,"v":3},
{"x":-2.15,"y":1,"v":5},{"x":-1.8,"y":1,"v":20},{"x":-1.45,"y":1,"v":58},{"x":-1.1,"y":1,"v":92},{"x":-0.75,"y":1,"v":97},{"x":-0.4,"y":1,"v":82},{"x":-0.05,"y":1,"v":55},{"x":0.3,"y":1,"v":45},{"x":0.65,"y":1,"v":55},{"x":1,"y":1,"v":80},{"x":1.35,"y":1,"v":96},{"x":1.7,"y":1,"v":90},{"x":2.05,"y":1,"v":58},{"x":2.4,"y":1,"v":20},{"x":2.75,"y":1,"v":5},
{"x":-2.15,"y":0.65,"v":5},{"x":-1.8,"y":0.65,"v":28},{"x":-1.45,"y":0.65,"v":68},{"x":-1.1,"y":0.65,"v":97},{"x":-0.75,"y":0.65,"v":90},{"x":-0.4,"y":0.65,"v":55},{"x":-0.05,"y":0.65,"v":18},{"x":0.3,"y":0.65,"v":8},{"x":0.65,"y":0.65,"v":18},{"x":1,"y":0.65,"v":55},{"x":1.35,"y":0.65,"v":90},{"x":1.7,"y":0.65,"v":95},{"x":2.05,"y":0.65,"v":68},{"x":2.4,"y":0.65,"v":28},{"x":2.75,"y":0.65,"v":5},
{"x":-2.15,"y":0.3,"v":6},{"x":-1.8,"y":0.3,"v":32},{"x":-1.45,"y":0.3,"v":72},{"x":-1.1,"y":0.3,"v":96},{"x":-0.75,"y":0.3,"v":86},{"x":-0.4,"y":0.3,"v":45},{"x":-0.05,"y":0.3,"v":8},{"x":0.3,"y":0.3,"v":2},{"x":0.65,"y":0.3,"v":8},{"x":1,"y":0.3,"v":45},{"x":1.35,"y":0.3,"v":86},{"x":1.7,"y":0.3,"v":96},{"x":2.05,"y":0.3,"v":72},{"x":2.4,"y":0.3,"v":32},{"x":2.75,"y":0.3,"v":6},
{"x":-2.15,"y":-0.05,"v":5},{"x":-1.8,"y":-0.05,"v":28},{"x":-1.45,"y":-0.05,"v":68},{"x":-1.1,"y":-0.05,"v":95},{"x":-0.75,"y":-0.05,"v":90},{"x":-0.4,"y":-0.05,"v":55},{"x":-0.05,"y":-0.05,"v":18},{"x":0.3,"y":-0.05,"v":8},{"x":0.65,"y":-0.05,"v":18},{"x":1,"y":-0.05,"v":55},{"x":1.35,"y":-0.05,"v":90},{"x":1.7,"y":-0.05,"v":98},{"x":2.05,"y":-0.05,"v":70},{"x":2.4,"y":-0.05,"v":28},{"x":2.75,"y":-0.05,"v":5},
{"x":-2.15,"y":-0.4,"v":5},{"x":-1.8,"y":-0.4,"v":20},{"x":-1.45,"y":-0.4,"v":58},{"x":-1.1,"y":-0.4,"v":90},{"x":-0.75,"y":-0.4,"v":96},{"x":-0.4,"y":-0.4,"v":80},{"x":-0.05,"y":-0.4,"v":55},{"x":0.3,"y":-0.4,"v":45},{"x":0.65,"y":-0.4,"v":55},{"x":1,"y":-0.4,"v":82},{"x":1.35,"y":-0.4,"v":96},{"x":1.7,"y":-0.4,"v":92},{"x":2.05,"y":-0.4,"v":60},{"x":2.4,"y":-0.4,"v":20},{"x":2.75,"y":-0.4,"v":5},
{"x":-2.15,"y":-0.75,"v":3},{"x":-1.8,"y":-0.75,"v":10},{"x":-1.45,"y":-0.75,"v":40},{"x":-1.1,"y":-0.75,"v":72},{"x":-0.75,"y":-0.75,"v":94},{"x":-0.4,"y":-0.75,"v":96},{"x":-0.05,"y":-0.75,"v":90},{"x":0.3,"y":-0.75,"v":86},{"x":0.65,"y":-0.75,"v":90},{"x":1,"y":-0.75,"v":96},{"x":1.35,"y":-0.75,"v":94},{"x":1.7,"y":-0.75,"v":76},{"x":2.05,"y":-0.75,"v":40},{"x":2.4,"y":-0.75,"v":10},{"x":2.75,"y":-0.75,"v":3},
{"x":-2.15,"y":-1.1,"v":3},{"x":-1.8,"y":-1.1,"v":6},{"x":-1.45,"y":-1.1,"v":20},{"x":-1.1,"y":-1.1,"v":58},{"x":-0.75,"y":-1.1,"v":74},{"x":-0.4,"y":-1.1,"v":92},{"x":-0.05,"y":-1.1,"v":100},{"x":0.3,"y":-1.1,"v":98},{"x":0.65,"y":-1.1,"v":95},{"x":1,"y":-1.1,"v":90},{"x":1.35,"y":-1.1,"v":76},{"x":1.7,"y":-1.1,"v":60},{"x":2.05,"y":-1.1,"v":20},{"x":2.4,"y":-1.1,"v":6},{"x":2.75,"y":-1.1,"v":3},
{"x":-2.15,"y":-1.45,"v":3},{"x":-1.8,"y":-1.45,"v":3},{"x":-1.45,"y":-1.45,"v":5},{"x":-1.1,"y":-1.45,"v":20},{"x":-0.75,"y":-1.45,"v":42},{"x":-0.4,"y":-1.45,"v":60},{"x":-0.05,"y":-1.45,"v":72},{"x":0.3,"y":-1.45,"v":72},{"x":0.65,"y":-1.45,"v":68},{"x":1,"y":-1.45,"v":58},{"x":1.35,"y":-1.45,"v":40},{"x":1.7,"y":-1.45,"v":20},{"x":2.05,"y":-1.45,"v":5},{"x":2.4,"y":-1.45,"v":3},{"x":2.75,"y":-1.45,"v":3},
{"x":-2.15,"y":-1.8,"v":5},{"x":-1.8,"y":-1.8,"v":3},{"x":-1.45,"y":-1.8,"v":3},{"x":-1.1,"y":-1.8,"v":4},{"x":-0.75,"y":-1.8,"v":10},{"x":-0.4,"y":-1.8,"v":22},{"x":-0.05,"y":-1.8,"v":28},{"x":0.3,"y":-1.8,"v":32},{"x":0.65,"y":-1.8,"v":28},{"x":1,"y":-1.8,"v":20},{"x":1.35,"y":-1.8,"v":10},{"x":1.7,"y":-1.8,"v":5},{"x":2.05,"y":-1.8,"v":3},{"x":2.4,"y":-1.8,"v":3},{"x":2.75,"y":-1.8,"v":5},
{"x":-2.15,"y":-2.15,"v":6},{"x":-1.8,"y":-2.15,"v":4},{"x":-1.45,"y":-2.15,"v":3},{"x":-1.1,"y":-2.15,"v":3},{"x":-0.75,"y":-2.15,"v":3},{"x":-0.4,"y":-2.15,"v":5},{"x":-0.05,"y":-2.15,"v":5},{"x":0.3,"y":-2.15,"v":6},{"x":0.65,"y":-2.15,"v":6},{"x":1,"y":-2.15,"v":5},{"x":1.35,"y":-2.15,"v":3},{"x":1.7,"y":-2.15,"v":3},{"x":2.05,"y":-2.15,"v":3},{"x":2.4,"y":-2.15,"v":5},{"x":2.75,"y":-2.15,"v":8}
],"note":[{"x":-11.6,"y":7.55,"t":"(a)"}]},
"layer":[
{"data":{"name":"coarse"},"mark":{"type":"rect","width":39.5,"height":39.5,"clip":true},"encoding":{
"x":{"field":"x","type":"quantitative","scale":{"domain":[-9.6,10.29],"nice":false,"zero":false},"axis":{"orient":"bottom","values":[-9.6,0,10],"labelExpr":"datum.value<0?'-10':datum.value","grid":false,"domain":false,"tickColor":"#404040","tickWidth":3,"tickSize":-8,"labelFont":"Liberation Sans","labelFontSize":54,"labelColor":"#404040","labelPadding":35,"labelAngle":0,"labelOverlap":false,"labelFlush":false,"labelBound":false,"zindex":1,"title":"ξ","titleFont":"Liberation Serif","titleFontStyle":"italic","titleFontWeight":"normal","titleFontSize":107,"titleColor":"#000000","titleX":797,"titleY":95,"titleAlign":"center","titleBaseline":"alphabetic"}},
"y":{"field":"y","type":"quantitative","scale":{"domain":[-9.62,10.27],"nice":false,"zero":false},"axis":{"orient":"left","values":[-9.62,0,10],"labelExpr":"datum.value<0?'-10':datum.value","grid":false,"domain":false,"tickColor":"#404040","tickWidth":3,"tickSize":-8,"labelFont":"Liberation Sans","labelFontSize":54,"labelColor":"#404040","labelPadding":33,"labelBaseline":"middle","labelOffset":3,"labelOverlap":false,"labelFlush":false,"labelBound":false,"zindex":1,"title":"η","titleFont":"Liberation Serif","titleFontStyle":"italic","titleFontWeight":"normal","titleFontSize":100,"titleColor":"#000000","titleAngle":0,"titleX":-95,"titleY":348,"titleAlign":"center","titleBaseline":"alphabetic"}},
"color":{"field":"v","type":"quantitative","legend":null,"scale":{"domain":[0,37.5,75,100],"range":["#000000","#ff0000","#ffff00","#ffffff"],"interpolate":"rgb"}}}},
{"data":{"name":"coarse"},"mark":{"type":"rect","width":62,"height":62,"opacity":0.45,"xOffset":8,"yOffset":8,"clip":true},"encoding":{
"x":{"field":"x","type":"quantitative","axis":null},
"y":{"field":"y","type":"quantitative","axis":null},
"color":{"field":"v","type":"quantitative","legend":null}}},
{"data":{"name":"fine"},"mark":{"type":"rect","width":20,"height":20,"clip":true},"encoding":{
"x":{"field":"x","type":"quantitative","axis":{"orient":"top","values":[0,10],"labels":false,"title":null,"grid":false,"domain":false,"tickColor":"#404040","tickWidth":3,"tickSize":-8,"zindex":1}},
"y":{"field":"y","type":"quantitative","axis":{"orient":"right","values":[0,10],"labels":false,"title":null,"grid":false,"domain":false,"tickColor":"#404040","tickWidth":3,"tickSize":-8,"zindex":1}},
"color":{"field":"v","type":"quantitative","legend":null}}},
{"data":{"name":"fine"},"mark":{"type":"rect","width":31,"height":31,"opacity":0.45,"xOffset":4,"yOffset":4,"clip":true},"encoding":{
"x":{"field":"x","type":"quantitative","axis":null},
"y":{"field":"y","type":"quantitative","axis":null},
"color":{"field":"v","type":"quantitative","legend":null}}},
{"data":{"name":"note"},"mark":{"type":"text","font":"Liberation Sans","fontSize":64,"color":"#000000","align":"center","baseline":"middle"},"encoding":{
"x":{"field":"x","type":"quantitative","axis":null},
"y":{"field":"y","type":"quantitative","axis":null},
"text":{"field":"t"}}}
]}
